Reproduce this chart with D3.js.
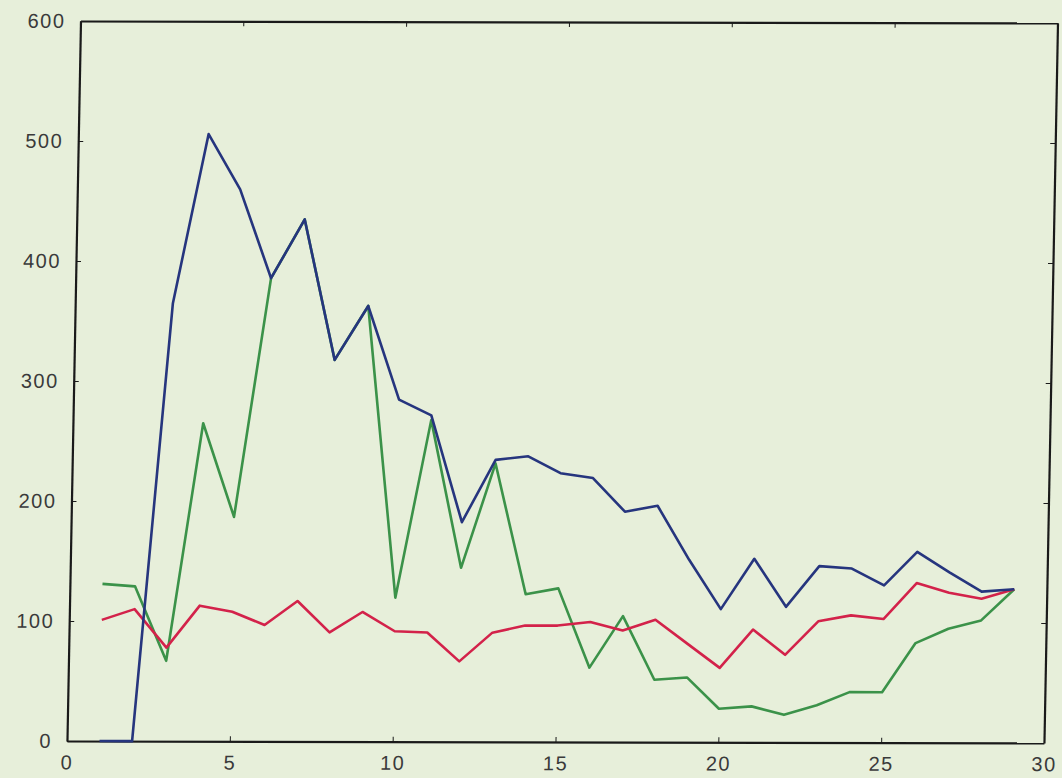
<!DOCTYPE html>
<html>
    <head>
      <style>
        body {
          margin: 0;
          background: #e7efda;
          font-family: "DejaVu Sans", Arial, sans-serif;
        }
        .axis text {
          font-size: 20px;
          letter-spacing: 1.5px;
          fill: #3a3a3a;
        }
        .axis path, .axis line {
          stroke: #1a1a1a;
        }
        .series {
          fill: none;
          stroke-width: 2.6px;
          stroke-linejoin: round;
        }
      </style>
    </head>
    <body>

      <script src="https://d3js.org/d3.v7.min.js"></script>
      <script>
        const steps = d3.range(1, 30);
        const blueValues = [0, 0, 365, 506, 460, 386, 435, 318, 363, 285, 272, 183, 235, 238, 224,
          220, 192, 197, 152, 111, 153, 113, 147, 145, 131, 159, 142, 126, 128];
        const redValues = [101, 110, 78, 113, 108, 97, 117, 91, 108, 92, 91, 67, 91, 97, 97,
          100, 93, 102, 82, 62, 94, 73, 101, 106, 103, 133, 125, 120, 128];
        const greenValues = [131, 129, 67, 265, 187, 386, 435, 318, 363, 120, 268, 145, 232, 123, 128,
          62, 105, 52, 54, 28, 30, 23, 31, 42, 42, 83, 95, 102, 128];
        const xTicks = [0, 5, 10, 15, 20, 25, 30];
        const yTicks = [0, 100, 200, 300, 400, 500, 600];

        const width = 977;
        const height = 720;

        const x = d3.scaleLinear()
          .domain([0, 30])
          .range([0, width]);

        const y = d3.scaleLinear()
          .domain([0, 600])
          .range([height, 0]);

        const svg = d3.select('body').append('svg')
          .attr('width', 1062)
          .attr('height', 778);

        // the photo is a little tilted, so the plot is sheared to match
        const g = svg.append('g')
          .attr('transform', 'matrix(1,0.002,-0.0188,1,80.5,21)');

        g.append('g')
          .attr('class', 'axis')
          .attr('transform', 'translate(0,' + height + ')')
          .call(d3.axisBottom(x).tickValues(xTicks).tickSize(-5).tickPadding(14).tickSizeOuter(0));

        g.append('g')
          .attr('class', 'axis')
          .call(d3.axisTop(x).tickValues(xTicks).tickSize(-5).tickFormat('').tickSizeOuter(0));

        g.append('g')
          .attr('class', 'axis')
          .call(d3.axisLeft(y).tickValues(yTicks).tickSize(-5).tickPadding(15).tickSizeOuter(0));

        g.append('g')
          .attr('class', 'axis')
          .attr('transform', 'translate(' + width + ',0)')
          .call(d3.axisRight(y).tickValues(yTicks).tickSize(-5).tickFormat('').tickSizeOuter(0));

        g.selectAll('.axis path').attr('stroke-width', 2.2);

        const line = d3.line()
          .x((d, i) => x(steps[i]))
          .y(d => y(d));

        const seriesList = [
          { name: 'green', values: greenValues, color: '#3b9249' },
          { name: 'red', values: redValues, color: '#d3224a' },
          { name: 'blue', values: blueValues, color: '#26357e' }
        ];

        g.selectAll('path.series')
          .data(seriesList)
          .join('path')
          .attr('class', 'series')
          .attr('stroke', d => d.color)
          .attr('d', d => line(d.values));
      </script>
    </body>
</html>
